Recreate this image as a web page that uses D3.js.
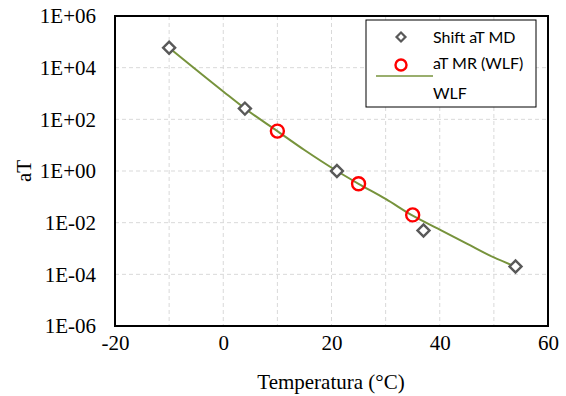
<!DOCTYPE html>
<html>
<head>
<meta charset="utf-8">
<script src="https://cdn.jsdelivr.net/npm/d3@7"></script>
<style>
  body { margin: 0; background: #fff; }
  svg { display: block; }
  .serif { font-family: "Liberation Serif", "Times New Roman", serif; font-size: 21px; fill: #000; }
  .legend { font-family: Lato, "Open Sans", sans-serif; font-size: 16px; fill: #000; }
</style>
</head>
<body>
<div id="chart"></div>
<script>
// Shift aT MD (diamonds)
const mdTemps = [-10, 4, 21, 37, 54];
const mdShift = [5.9e4, 2.6e2, 1.0, 5.0e-3, 2.0e-4];
// aT MR (WLF) (red circles)
const mrTemps = [10, 25, 35];
const mrShift = [35, 0.32, 0.02];
// WLF curve
const wlfTemps = [-10, 0, 4, 10, 15, 21, 25, 30, 35, 40, 45, 50, 54];
const wlfShift = [5.9e4, 1200, 263, 35, 6.5, 1.0, 0.32, 0.083, 0.0186, 0.0054, 0.00155, 0.00045, 0.0002];
// Axis ticks
const xTicks = [-20, 0, 20, 40, 60];
const xTickLabels = ["-20", "0", "20", "40", "60"];
const xGrid = [-10, 0, 10, 20, 30, 40, 50];
const yTicks = [1e-6, 1e-4, 1e-2, 1, 1e2, 1e4, 1e6];
const yTickLabels = ["1E-06", "1E-04", "1E-02", "1E+00", "1E+02", "1E+04", "1E+06"];

const W = 566, H = 396;
const M = { left: 115, right: 18, top: 16, bottom: 70 };
const svg = d3.select("#chart").append("svg").attr("width", W).attr("height", H);

const x = d3.scaleLinear().domain([-20, 60]).range([M.left, W - M.right]);
const y = d3.scaleLog().domain([1e-6, 1e6]).range([H - M.bottom, M.top]);

// Grid
const grid = svg.append("g").attr("stroke", "#d9d9d9").attr("stroke-width", 1).attr("stroke-dasharray", "4,3");
grid.selectAll("line.v").data(xGrid).join("line").attr("class", "v")
    .attr("x1", d => x(d)).attr("x2", d => x(d)).attr("y1", M.top).attr("y2", H - M.bottom);
grid.selectAll("line.h").data(yTicks.slice(1, -1)).join("line").attr("class", "h")
    .attr("x1", M.left).attr("x2", W - M.right).attr("y1", d => y(d)).attr("y2", d => y(d));

// Axes tick labels
const xAxis = d3.axisBottom(x).tickValues(xTicks).tickSize(0).tickPadding(9)
    .tickFormat((d, i) => xTickLabels[i]);
svg.append("g").attr("transform", `translate(0,${H - M.bottom})`).call(xAxis)
    .call(g => g.select(".domain").remove())
    .selectAll("text").attr("class", "serif");
const yAxis = d3.axisLeft(y).tickValues(yTicks).tickSize(0).tickPadding(19)
    .tickFormat((d, i) => yTickLabels[i]);
svg.append("g").attr("transform", `translate(${M.left},0)`).call(yAxis)
    .call(g => g.select(".domain").remove())
    .selectAll("text").attr("class", "serif");

// Frame
svg.append("rect").attr("x", M.left).attr("y", M.top)
    .attr("width", W - M.right - M.left).attr("height", H - M.bottom - M.top)
    .attr("fill", "none").attr("stroke", "#000").attr("stroke-width", 2);

// Axis titles
svg.append("text").attr("class", "serif").attr("x", 331).attr("y", 389).attr("text-anchor", "middle")
    .text("Temperatura (°C)");
svg.append("text").attr("class", "serif").attr("transform", `translate(31,${y(1)}) rotate(-90)`)
    .attr("text-anchor", "middle").text("aT");

// WLF line
const line = d3.line().curve(d3.curveMonotoneX).x(d => x(d[0])).y(d => y(d[1]));
svg.append("path").datum(d3.zip(wlfTemps, wlfShift)).attr("d", line)
    .attr("fill", "none").attr("stroke", "#77933c").attr("stroke-width", 2);

// Diamonds
const diamond = d3.symbol().type(d3.symbolSquare).size(72);
svg.append("g").selectAll("path").data(d3.zip(mdTemps, mdShift)).join("path")
    .attr("d", diamond)
    .attr("transform", d => `translate(${x(d[0])},${y(d[1])}) rotate(45)`)
    .attr("fill", "#fff").attr("stroke", "#595959").attr("stroke-width", 2.4);

// Circles
svg.append("g").selectAll("circle").data(d3.zip(mrTemps, mrShift)).join("circle")
    .attr("cx", d => x(d[0])).attr("cy", d => y(d[1])).attr("r", 6.5)
    .attr("fill", "none").attr("stroke", "#ff0000").attr("stroke-width", 2.4);

// Legend
const lg = svg.append("g");
lg.append("rect").attr("x", 366).attr("y", 20).attr("width", 170).attr("height", 87)
    .attr("fill", "#fff").attr("stroke", "#000").attr("stroke-width", 1);
lg.append("path").attr("d", d3.symbol().type(d3.symbolSquare).size(40))
    .attr("transform", "translate(401,37) rotate(45)")
    .attr("fill", "#fff").attr("stroke", "#595959").attr("stroke-width", 2.2);
lg.append("circle").attr("cx", 401).attr("cy", 65).attr("r", 5.5)
    .attr("fill", "none").attr("stroke", "#ff0000").attr("stroke-width", 2.4);
lg.append("line").attr("x1", 376).attr("x2", 433).attr("y1", 76).attr("y2", 76)
    .attr("stroke", "#77933c").attr("stroke-width", 1.5);
const legendText = ["Shift aT MD", "aT MR (WLF)", "WLF"];
lg.selectAll("text").data(legendText).join("text")
    .attr("class", "legend")
    .attr("x", 433).attr("y", (d, i) => [43, 69, 99][i])
    .text(d => d);
</script>
</body>
</html>
